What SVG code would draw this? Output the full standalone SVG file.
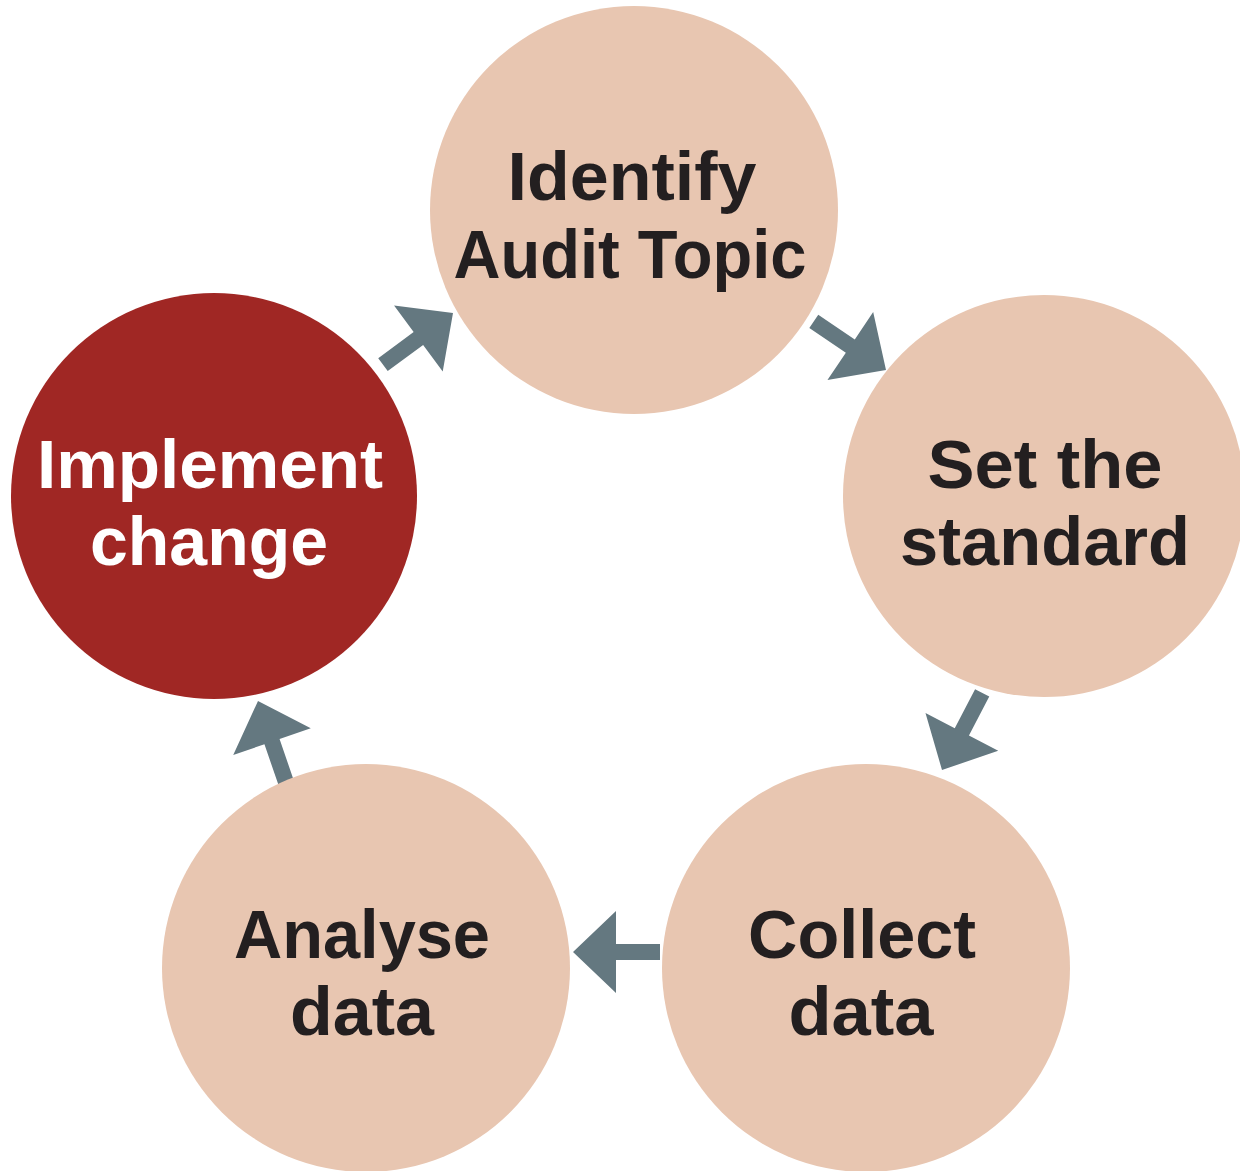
<svg xmlns="http://www.w3.org/2000/svg" xmlns:xlink="http://www.w3.org/1999/xlink" width="1240" height="1171" viewBox="0 0 1240 1171">
<style>
.peach{fill:#e8c6b1}
.red{fill:#a02724}
.lbl{font-family:"Liberation Sans",Arial,sans-serif;font-weight:bold;font-size:69px;text-anchor:middle;fill:#231f20}
.lblw{fill:#ffffff}
.arrow{fill:#647880}
</style>
<defs>
<path id="arr" d="M0,0 L-43,-41 L-43,-8 L-87,-8 L-87,8 L-43,8 L-43,41 Z"/>
</defs>
<rect width="1240" height="1171" fill="#ffffff"/>
<g id="connectors" class="arrow">
<use xlink:href="#arr" transform="translate(453,313) rotate(-36.4)"/>
<use xlink:href="#arr" transform="translate(886,370) rotate(33.9)"/>
<use xlink:href="#arr" transform="translate(942,770) rotate(117.5)"/>
<use xlink:href="#arr" transform="translate(573,952) rotate(180)"/>
<use xlink:href="#arr" transform="translate(258,701) rotate(-109)"/>
</g>
<g id="identify">
<circle class="peach" cx="634" cy="210" r="204"/>
<text class="lbl" x="632" y="200" textLength="249" lengthAdjust="spacingAndGlyphs">Identify</text>
<text class="lbl" x="630" y="278" textLength="353" lengthAdjust="spacingAndGlyphs">Audit Topic</text>
</g>
<g id="standard">
<circle class="peach" cx="1044" cy="496" r="201"/>
<text class="lbl" x="1045" y="488" textLength="235" lengthAdjust="spacingAndGlyphs">Set the</text>
<text class="lbl" x="1045" y="565" textLength="290" lengthAdjust="spacingAndGlyphs">standard</text>
</g>
<g id="collect">
<circle class="peach" cx="866" cy="968" r="204"/>
<text class="lbl" x="862" y="958" textLength="228" lengthAdjust="spacingAndGlyphs">Collect</text>
<text class="lbl" x="861" y="1035" textLength="145" lengthAdjust="spacingAndGlyphs">data</text>
</g>
<g id="analyse">
<circle class="peach" cx="366" cy="968" r="204"/>
<text class="lbl" x="362" y="958" textLength="256" lengthAdjust="spacingAndGlyphs">Analyse</text>
<text class="lbl" x="362" y="1035" textLength="144" lengthAdjust="spacingAndGlyphs">data</text>
</g>
<g id="implement">
<circle class="red" cx="214" cy="496" r="203"/>
<text class="lbl lblw" x="210" y="488" textLength="346" lengthAdjust="spacingAndGlyphs">Implement</text>
<text class="lbl lblw" x="209" y="565" textLength="238" lengthAdjust="spacingAndGlyphs">change</text>
</g>
</svg>
